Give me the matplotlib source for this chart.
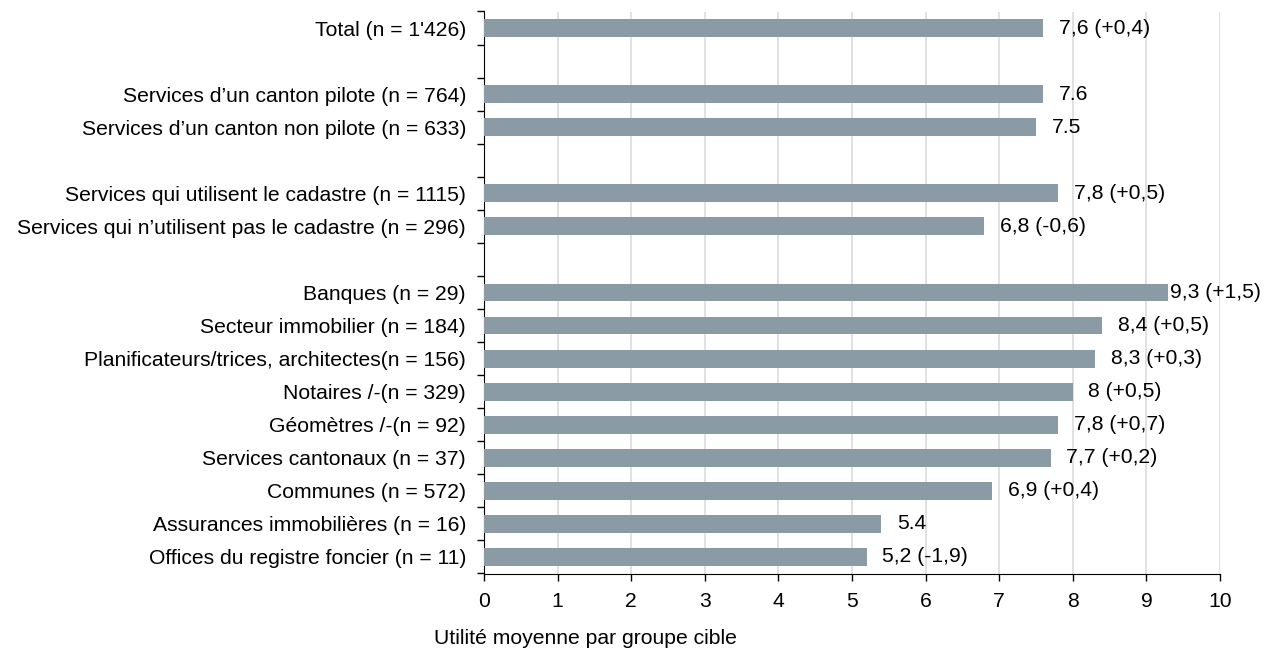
import numpy as np
import matplotlib
matplotlib.use("Agg")
import matplotlib.pyplot as plt
from matplotlib.ticker import FixedLocator

plt.rcParams['font.family'] = ['Liberation Sans', 'DejaVu Sans']

# rows from top to bottom, "" = empty spacer row
categories = [
    "Total (n = 1'426)",
    "",
    "Services d\u2019un canton pilote (n = 764)",
    "Services d\u2019un canton non pilote (n = 633)",
    "",
    "Services qui utilisent le cadastre (n = 1115)",
    "Services qui n\u2019utilisent pas le cadastre (n = 296)",
    "",
    "Banques (n = 29)",
    "Secteur immobilier (n = 184)",
    "Planificateurs/trices, architectes(n = 156)",
    "Notaires /-(n = 329)",
    "G\u00e9om\u00e8tres /-(n = 92)",
    "Services cantonaux (n = 37)",
    "Communes (n = 572)",
    "Assurances immobili\u00e8res (n = 16)",
    "Offices du registre foncier (n = 11)",
]
values = [7.6, np.nan, 7.6, 7.5, np.nan, 7.8, 6.8, np.nan,
          9.3, 8.4, 8.3, 8.0, 7.8, 7.7, 6.9, 5.4, 5.2]
value_labels = ["7,6 (+0,4)", "", "7.6", "7.5", "", "7,8 (+0,5)", "6,8 (-0,6)", "",
                "9,3 (+1,5)", "8,4 (+0,5)", "8,3 (+0,3)", "8 (+0,5)", "7,8 (+0,7)",
                "7,7 (+0,2)", "6,9 (+0,4)", "5.4", "5,2 (-1,9)"]
xticks = list(range(0, 11))

bar_color = '#8a9ba6'
grid_color = '#dedede'
fs = 15.2

fig = plt.figure(figsize=(12.64, 6.51), dpi=100)
ax = fig.add_axes([484 / 1264, 1 - 573.5 / 651, (1220 - 484) / 1264, (573.5 - 11.5) / 651])

y = np.arange(len(categories))
vals = np.array(values, dtype=float)
ax.barh(y, np.nan_to_num(vals), height=0.54, color=bar_color, zorder=3)

for yi, v, lab in zip(y, vals, value_labels):
    if np.isnan(v):
        continue
    # the 9,3 label sits right against its bar in the original
    pad = 1.0 if v > 9 else 11.3
    ax.annotate(lab, (v, yi), xytext=(pad, 0), textcoords='offset points',
                va='center', ha='left', fontsize=fs, color='#000000', zorder=4)

ax.set_xlim(0, 10)
ax.set_ylim(len(categories) - 0.5, -0.5)
ax.set_xticks(xticks)
ax.set_xticklabels([str(t) for t in xticks], fontsize=fs)
ax.set_yticks(y)
ax.set_yticklabels(categories, fontsize=fs)
ax.yaxis.set_minor_locator(FixedLocator(np.arange(-0.5, len(categories), 1.0)))
ax.tick_params(axis='y', which='major', length=0, pad=13)
ax.tick_params(axis='y', which='minor', length=5, width=1, color='black', direction='out')
ax.tick_params(axis='x', which='major', length=5, width=1, color='black', direction='out', pad=8)

ax.grid(axis='x', color=grid_color, linewidth=1.3, zorder=0)
ax.set_axisbelow(True)
for s in ['top', 'right']:
    ax.spines[s].set_visible(False)
ax.spines['left'].set_color('black')
ax.spines['bottom'].set_color('black')

fig.text(585 / 1264, 1 - 639 / 651, "Utilit\u00e9 moyenne par groupe cible",
         ha='center', va='center', fontsize=fs)

fig.savefig('out.png', dpi=100)
